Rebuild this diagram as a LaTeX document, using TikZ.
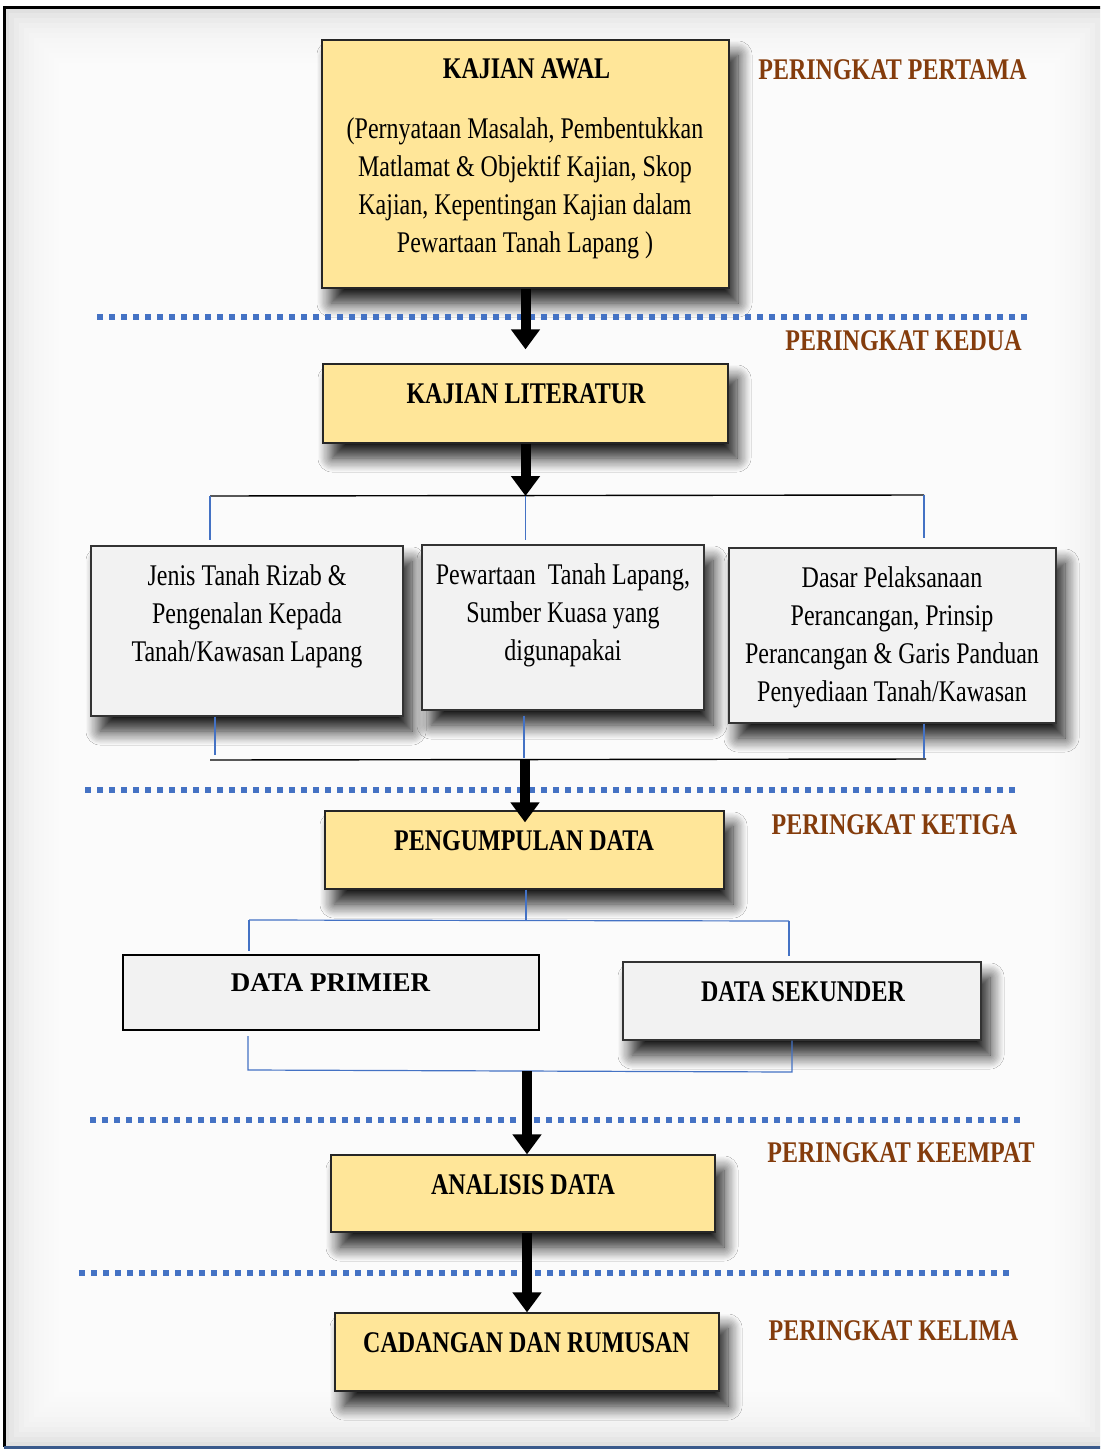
\documentclass[tikz,border=0pt]{standalone}
\usepackage{fontspec}
\setmainfont{Liberation Serif}
\newfontfamily\condfont{Liberation Serif}[FakeStretch=0.8]
\usetikzlibrary{arrows.meta,shadows.blur}
\definecolor{boxyellow}{HTML}{FFE699}
\definecolor{boxgray}{HTML}{F2F2F2}
\definecolor{lineblue}{HTML}{4472C4}
\definecolor{stagebrown}{HTML}{843C0C}
\definecolor{framebot}{HTML}{3A5A8C}
\tikzset{
  shadowed/.style={blur shadow={shadow xshift=9pt, shadow yshift=-15pt, shadow blur radius=14pt, shadow blur steps=12, shadow opacity=90}},
  ybox/.style={draw=black!85, line width=1.3pt, fill=boxyellow, shadowed, inner sep=0pt},
  gbox/.style={draw=black!80, line width=1.3pt, fill=boxgray, shadowed, inner sep=0pt},
  titletxt/.style={anchor=base, inner sep=0pt, font=\condfont\bfseries\fontsize{30}{38}\selectfont},
  bodytxt/.style={anchor=base, inner sep=0pt, align=flush center, font=\condfont\fontsize{30}{38}\selectfont},
  stagetxt/.style={anchor=base, inner sep=0pt, text=stagebrown, font=\condfont\bfseries\fontsize{30}{38}\selectfont},
  bigarrow/.style={line width=10pt, -{Triangle[width=28pt,length=20pt]}},
  sepline/.style={lineblue, line width=6pt, dash pattern=on 6pt off 6pt},
  blk/.style={black, line width=1.4pt},
  blu/.style={lineblue, line width=1.2pt},
}
\begin{document}
\begin{tikzpicture}[x=1pt,y=-1pt]
\useasboundingbox (0,0) rectangle (1100,1450);
\begin{scope}
\clip (0,0) rectangle (1100,1450);
% background with soft inner glow
\fill[gray!24] (4,8) rectangle (1110,1447);
\foreach \i in {1,...,16}
  \fill[white, opacity=0.2] (4+5*\i, 8+5*\i) rectangle (1110-5*\i, 1447-5*\i);
\draw[black, line width=3pt] (1110,8) -- (4,8) -- (4,1447);
\draw[framebot, line width=3pt] (4,1447) -- (1110,1447);
\end{scope}

% boxes
\node[ybox, minimum width=407pt, minimum height=248pt] (awal) at (525.5,164) {};
\node[ybox, minimum width=405pt, minimum height=79pt] (lit) at (525.5,403.5) {};
\node[gbox, minimum width=312pt, minimum height=170pt] (ja) at (247,631) {};
\node[gbox, minimum width=282pt, minimum height=165pt] (jb) at (563,627.5) {};
\node[gbox, minimum width=327pt, minimum height=175pt] (jc) at (892.5,635.5) {};
\node[ybox, minimum width=399pt, minimum height=78pt] (peng) at (524.5,850) {};
\node[draw=black, line width=2.2pt, fill=boxgray, inner sep=0pt, minimum width=416pt, minimum height=75pt] (prim) at (331,992.5) {};
\node[gbox, minimum width=358pt, minimum height=78pt] (sek) at (802,1001) {};
\node[ybox, minimum width=384pt, minimum height=77pt] (anal) at (523,1193.5) {};
\node[ybox, minimum width=384pt, minimum height=78pt] (cad) at (527,1352) {};

% texts
\node[titletxt] (awalT) at (526.5,79) {KAJIAN AWAL};
\node[bodytxt, text width=400pt] (awalB) at (525,139) {(Pernyataan Masalah, Pembentukkan\\Matlamat \& Objektif Kajian, Skop\\Kajian, Kepentingan Kajian dalam\\Pewartaan Tanah Lapang )};
\node[titletxt] (litT) at (526,403) {KAJIAN LITERATUR};
\node[bodytxt, text width=300pt] (jaT) at (247,585) {Jenis Tanah Rizab \&\\Pengenalan Kepada\\Tanah/Kawasan Lapang};
\node[bodytxt, text width=280pt] (jbT) at (563,584) {Pewartaan\ \ Tanah Lapang,\\Sumber Kuasa yang\\digunapakai};
\node[bodytxt, text width=320pt] (jcT) at (892,587) {Dasar Pelaksanaan\\Perancangan, Prinsip\\Perancangan \& Garis Panduan\\Penyediaan Tanah/Kawasan};
\node[titletxt] (pengT) at (524,850) {PENGUMPULAN DATA};
\node[anchor=base, inner sep=0pt, font=\bfseries\fontsize{27}{32}\selectfont] (primT) at (330.5,991) {DATA PRIMIER};
\node[titletxt] (sekT) at (803,1001) {DATA SEKUNDER};
\node[titletxt] (analT) at (523,1194) {ANALISIS DATA};
\node[titletxt] (cadT) at (526.5,1352) {CADANGAN DAN RUMUSAN};

% stage labels
\node[stagetxt] (st1) at (892.5,80) {PERINGKAT PERTAMA};
\node[stagetxt] (st2) at (903.5,350) {PERINGKAT KEDUA};
\node[stagetxt] (st3) at (894.5,834) {PERINGKAT KETIGA};
\node[stagetxt] (st4) at (901,1162) {PERINGKAT KEEMPAT};
\node[stagetxt] (st5) at (893.5,1340) {PERINGKAT KELIMA};

% dotted separators
\coordinate (s1a) at (97,317);  \coordinate (s1b) at (1030,317);
\coordinate (s2a) at (85,790);  \coordinate (s2b) at (1017,790);
\coordinate (s3a) at (90,1120); \coordinate (s3b) at (1022,1120);
\coordinate (s4a) at (79,1273); \coordinate (s4b) at (1013,1273);
\draw[sepline] (s1a) -- (s1b);
\draw[sepline] (s2a) -- (s2b);
\draw[sepline] (s3a) -- (s3b);
\draw[sepline] (s4a) -- (s4b);

% top bracket (literature -> three boxes)
\coordinate (tl) at (210,496);
\coordinate (tm) at (525.5,496);
\coordinate (tr) at (924,495);
\draw[blk] (tl) -- (tr);
\draw[blu, shorten >=5pt] (tl) -- (tl |- ja.north);
\draw[blu, shorten >=4pt] (tm) -- (tm |- jb.north);
\draw[blu, shorten >=9pt] (tr) -- (tr |- jc.north);

% bottom bracket (three boxes -> data collection)
\coordinate (bl) at (210,760);
\coordinate (bm) at (525,760);
\coordinate (br) at (926,759);
\coordinate (blv) at (215,755);
\coordinate (bmv) at (524,758);
\coordinate (brv) at (924,758);
\draw[blk] (bl) -- (br);
\draw[blu] (ja.south -| blv) -- (blv);
\draw[blu] ([yshift=-5pt]jb.south -| bmv) -- (bmv);
\draw[blu] (jc.south -| brv) -- (brv);

% data collection bracket
\coordinate (pm) at (526,921);
\coordinate (pl) at (249,920);
\coordinate (pr) at (789,921);
\draw[blu] (peng.south -| pm) -- (pm);
\draw[blu] (pl) -- (pr);
\draw[blu, shorten >=3pt] (pl) -- (pl |- prim.north);
\draw[blu, shorten >=5pt] (pr) -- (pr |- sek.north);

% data merge bracket
\coordinate (dl) at (248,1070);
\coordinate (dm) at (527,1071);
\coordinate (dr) at (792,1072);
\draw[blu] ([yshift=-5pt]prim.south -| dl) -- (dl) -- (dr) -- (sek.south -| dr);

% main arrows
\draw[bigarrow] (awal.south) -- ([yshift=14pt]lit.north);
\draw[bigarrow] (lit.south) -- (tm);
\draw[bigarrow] (bm) -- ([yshift=-12pt]peng.north -| bm);
\draw[bigarrow] (dm) -- (anal.north -| dm);
\draw[bigarrow] (anal.south -| cad.north) -- (cad.north);
\end{tikzpicture}
\end{document}
